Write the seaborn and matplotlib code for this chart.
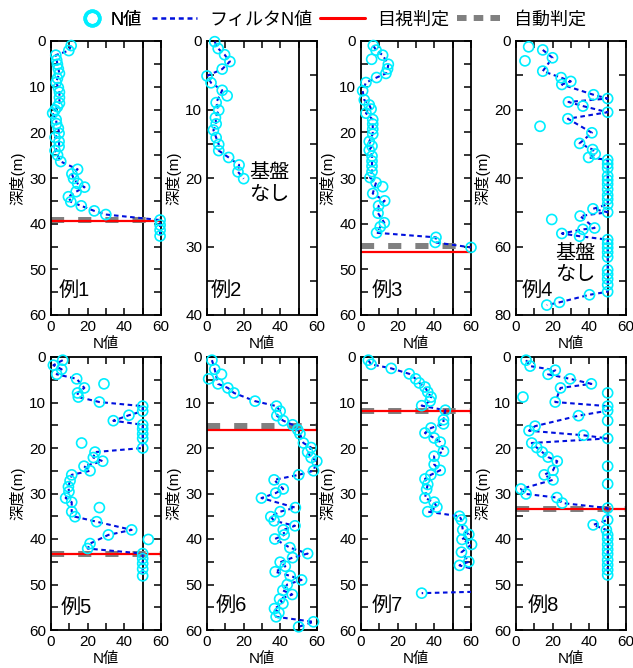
import numpy as np
import pandas as pd
import matplotlib
matplotlib.use("Agg")
import matplotlib.pyplot as plt
import seaborn as sns
from matplotlib.lines import Line2D
from matplotlib.ticker import MultipleLocator

# ---------------- data ----------------
d1 = [1.0, 2.1, 3.1, 4.2, 5.1, 6.1, 7.1, 8.2, 9.1, 10.2, 11.2, 12.4, 13.6, 14.4, 15.1, 15.8,
      17.2, 18.1, 19.1, 20.2, 21.1, 22.0, 23.1, 24.0, 25.0, 26.4, 28.1, 29.1, 30.1, 31.2,
      32.0, 33.0, 34.1, 35.2, 36.1, 37.2, 38.0, 39.2, 40.3, 41.4, 42.7]
n1 = [11.0, 9.7, 2.6, 3.1, 3.5, 4.0, 4.6, 3.5, 2.8, 4.0, 4.6, 4.6, 4.6, 3.5, 2.2, 0.9,
      2.8, 3.0, 4.0, 4.4, 2.2, 4.4, 4.4, 2.2, 3.6, 5.3, 14.5, 11.4, 12.3, 14.5,
      18.3, 13.7, 9.5, 10.8, 16.5, 23.6, 29.9, 59.5, 59.5, 59.5, 59.5]
out1 = []

d2 = [0.1, 1.1, 2.0, 3.0, 4.1, 5.1, 6.1, 7.2, 8.0, 9.0, 10.1, 11.2, 12.1, 13.0, 14.1,
      15.1, 16.0, 17.0, 18.1, 19.1, 20.1]
n2 = [4.2, 6.1, 9.6, 12.5, 8.3, 0.0, 2.2, 8.3, 11.0, 5.0, 6.4, 4.6, 5.0, 3.5, 5.0,
      6.4, 6.4, 11.8, 17.5, 16.9, 20.0]
out2 = [8]

d3 = [1.0, 2.0, 3.1, 4.0, 5.1, 6.1, 7.1, 8.0, 9.1, 10.9, 12.9, 14.0, 14.9, 15.8, 17.2,
      18.2, 19.3, 20.4, 22.0, 23.0, 23.9, 25.2, 26.3, 27.4, 28.6, 29.9, 31.0, 31.9, 33.4,
      35.0, 36.1, 37.7, 39.8, 40.7, 42.0, 43.0, 44.1, 45.2]
n3 = [6.7, 8.2, 11.8, 5.8, 14.9, 14.5, 13.6, 8.5, 2.7, 0.9, 1.8, 4.5, 5.5, 2.7, 6.4,
      6.4, 6.4, 6.4, 4.5, 6.0, 4.5, 6.0, 6.0, 6.0, 6.0, 4.9, 8.2, 11.8, 6.4,
      12.9, 9.6, 9.3, 12.7, 10.5, 8.5, 40.9, 40.5, 60.0]
out3 = [3, 27]

d4 = [1.7, 2.6, 4.9, 5.8, 8.8, 10.7, 11.8, 12.7, 15.7, 16.8, 17.8, 19.0, 20.8, 22.7, 24.9,
      26.8, 29.9, 31.7, 33.0, 34.0, 34.7, 35.9, 37.1, 39.4, 40.6, 41.8, 43.3, 45.0, 46.2,
      47.7, 49.0, 50.0, 51.1, 52.1, 54.6, 55.0, 56.2, 57.0, 58.0, 59.2, 60.4, 61.7, 63.1,
      66.8, 68.1, 69.5, 71.2, 73.2, 74.1, 76.3, 77.1]
n4 = [6.9, 14.6, 19.9, 4.9, 14.6, 24.6, 29.9, 25.0, 42.3, 50.0, 28.6, 36.5, 50.0, 28.3, 13.1,
      41.4, 34.7, 41.8, 43.2, 39.6, 50.0, 50.0, 50.0, 50.0, 50.0, 50.0, 50.0, 50.0, 50.0,
      50.0, 42.0, 50.0, 35.0, 19.5, 42.9, 36.5, 25.0, 34.7, 50.0, 50.0, 50.0, 50.0, 50.0,
      50.0, 50.0, 50.0, 50.0, 50.0, 40.1, 23.7, 16.8]
out4 = [0, 3, 14, 33]

d5 = [0.7, 1.8, 2.7, 3.8, 4.8, 5.9, 6.8, 7.9, 8.8, 9.9, 10.8, 11.9, 12.8, 14.0, 14.9,
      15.8, 16.9, 17.9, 18.9, 20.0, 20.9, 22.1, 22.9, 24.0, 25.0, 25.9, 27.2, 28.5, 29.6,
      31.0, 31.9, 33.1, 34.0, 35.1, 36.2, 38.0, 39.1, 40.1, 41.0, 42.1, 43.2, 44.3, 45.4,
      46.6, 48.1]
n5 = [6.4, 1.3, 5.8, 3.1, 14.0, 28.9, 18.2, 14.5, 14.9, 26.4, 50.0, 50.0, 42.5, 34.0, 50.0,
      50.0, 50.0, 50.0, 16.7, 50.0, 24.0, 23.1, 28.2, 18.0, 21.3, 11.3, 10.4, 9.5, 9.8,
      8.0, 11.3, 26.4, 11.3, 13.1, 24.9, 44.0, 31.3, 53.1, 21.3, 20.0, 50.0, 50.0, 50.0,
      50.0, 50.0]
out5 = [5, 18, 31, 37]

d6 = [0.7, 2.7, 3.8, 4.8, 5.9, 6.8, 7.9, 9.7, 10.8, 11.9, 12.9, 14.0, 14.9, 16.0, 16.9,
      18.9, 19.9, 20.9, 22.1, 22.9, 25.0, 25.9, 27.0, 29.0, 29.9, 31.0, 33.1, 34.0, 35.1,
      36.0, 37.1, 38.0, 39.1, 40.0, 41.9, 43.2, 44.1, 45.1, 46.0, 47.2, 48.1, 49.0, 50.0,
      51.3, 52.2, 53.2, 54.2, 55.3, 56.2, 57.1, 58.2, 59.3]
n6 = [2.7, 4.2, 7.9, 0.9, 6.0, 11.4, 14.7, 26.2, 37.9, 39.9, 38.1, 41.6, 46.7, 49.5, 50.7,
      52.6, 56.8, 54.9, 56.8, 59.9, 58.1, 50.0, 36.6, 41.6, 37.5, 29.7, 48.2, 39.9, 34.8,
      36.6, 48.0, 41.6, 42.1, 37.0, 45.2, 54.9, 46.7, 39.9, 42.7, 37.2, 45.4, 51.6, 43.8,
      41.4, 46.5, 39.6, 41.4, 36.8, 39.2, 37.7, 58.1, 50.0]
out6 = [2, 3]

d7 = [0.7, 1.6, 2.5, 3.7, 4.8, 5.7, 6.6, 7.7, 8.8, 9.7, 10.7, 11.7, 13.8, 14.7, 15.6,
      16.7, 17.8, 18.7, 20.7, 21.8, 23.6, 24.9, 25.9, 26.8, 28.0, 29.1, 31.0, 31.9, 33.0,
      34.0, 35.0, 35.8, 38.0, 39.0, 40.1, 41.2, 42.9, 45.0, 45.8, 47.0, 51.2, 51.9]
n7 = [4.0, 5.5, 16.5, 26.3, 29.8, 31.8, 34.9, 36.4, 38.2, 37.7, 33.1, 46.0, 45.0, 45.0, 38.2,
      34.9, 39.9, 43.2, 45.0, 39.9, 39.9, 43.2, 38.1, 34.9, 36.4, 35.8, 34.9, 39.9, 41.4,
      36.4, 53.7, 54.8, 55.5, 58.8, 55.1, 60.3, 54.8, 58.8, 53.7, 65.0, 100.0, 33.1]
out7 = []

d8 = [0.7, 2.0, 2.9, 3.8, 4.8, 5.9, 6.8, 7.9, 8.8, 9.9, 10.8, 11.8, 12.9, 14.0, 15.2,
      16.2, 17.2, 17.9, 18.9, 19.9, 20.9, 22.0, 22.9, 24.0, 24.9, 25.9, 27.0, 27.9, 29.0,
      30.1, 30.9, 32.1, 33.2, 35.8, 36.9, 38.0, 39.1, 40.0, 41.2, 42.3, 43.3, 44.6, 45.7,
      46.8, 47.9]
n8 = [5.5, 7.7, 21.4, 17.5, 29.5, 41.1, 24.3, 50.0, 3.8, 21.4, 50.0, 50.0, 34.1, 50.0, 10.4,
      7.1, 36.8, 50.0, 8.6, 11.3, 14.3, 17.5, 22.5, 50.0, 20.2, 15.4, 20.2, 50.0, 2.7,
      5.5, 22.3, 25.2, 50.0, 50.0, 42.1, 49.3, 50.0, 50.0, 50.0, 50.0, 50.0, 50.0, 50.0,
      50.0, 50.0]
out8 = [7, 8, 13, 23, 27]

titles = ["例1", "例2", "例3", "例4", "例5", "例6", "例7", "例8"]
ymaxs = [60, 40, 60, 80, 60, 60, 60, 60]
visual = [39.4, None, 46.2, None, 43.4, 16.0, 11.9, 33.4]   # 目視判定
auto = [39.2, None, 44.9, None, 43.2, 15.2, 11.8, 33.3]     # 自動判定
nobase = [False, True, False, True, False, False, False, False]

# ---------------- style ----------------
sns.set_style("ticks")
plt.rcParams['font.family'] = ['Liberation Sans', 'Noto Sans CJK JP', 'DejaVu Sans']
plt.rcParams['axes.linewidth'] = 1.3
plt.rcParams['text.color'] = 'black'
plt.rcParams['axes.labelcolor'] = 'black'
plt.rcParams['xtick.color'] = 'black'
plt.rcParams['ytick.color'] = 'black'
plt.rcParams['axes.edgecolor'] = 'black'

CYAN = '#00eeff'
BLUE = '#0010dd'
RED = '#ff0000'
GRAY = '#808080'
FILT_LS = (0, (2.2, 1.7))
AUTO_LS = (0, (2.2, 2.35))

fig = plt.figure(figsize=(6.33, 6.68), dpi=100)
W, H = 633.0, 668.0
lefts = [51, 207, 361, 516]
rows = [(41, 315), (357, 630)]

panels = [(d1, n1, out1), (d2, n2, out2), (d3, n3, out3), (d4, n4, out4),
          (d5, n5, out5), (d6, n6, out6), (d7, n7, out7), (d8, n8, out8)]
lab_pos = [(0.065, 0.09), (0.03, 0.09), (0.10, 0.09), (0.055, 0.09),
           (0.09, 0.084), (0.075, 0.09), (0.10, 0.09), (0.11, 0.09)]
base_pos = {1: (0.38, 0.48), 3: (0.355, 0.185)}

for i, (d, n, out) in enumerate(panels):
    r, c = divmod(i, 4)
    top, bot = rows[r]
    ax = fig.add_axes([lefts[c] / W, (H - bot) / H, 110 / W, (bot - top) / H])
    df = pd.DataFrame({'N': n, 'depth': d})
    df_f = df.drop(index=out)
    df_s = df[df['N'] <= 61]

    ax.axvline(50, color='black', lw=1.3, zorder=1)
    if auto[i] is not None:
        ax.axhline(auto[i], color=GRAY, lw=4.3, ls=AUTO_LS, zorder=2)
    if visual[i] is not None:
        ax.axhline(visual[i], color=RED, lw=1.6, zorder=2.5)

    sns.lineplot(data=df_f, x='N', y='depth', sort=False, estimator=None, ax=ax,
                 color=BLUE, lw=1.5, linestyle=FILT_LS, zorder=3)
    ax.scatter(df_s['N'], df_s['depth'], s=52, facecolors='none',
               edgecolors=CYAN, linewidths=1.2, zorder=4, clip_on=False)

    ax.set_xlim(0, 60)
    ax.set_ylim(ymaxs[i], 0)
    ax.xaxis.set_major_locator(MultipleLocator(20))
    ax.xaxis.set_minor_locator(MultipleLocator(10))
    if ymaxs[i] == 80:
        ax.yaxis.set_major_locator(MultipleLocator(20))
        ax.yaxis.set_minor_locator(MultipleLocator(10))
    else:
        ax.yaxis.set_major_locator(MultipleLocator(10))
        ax.yaxis.set_minor_locator(MultipleLocator(5))
    ax.tick_params(which='both', direction='in', top=True, right=True,
                   length=5, width=1.1, labelsize=11, colors='black')
    ax.set_xlabel('N値', fontsize=11, labelpad=2, color='black')
    ax.set_ylabel('深度(m)', fontsize=11, labelpad=3, color='black')
    for s in ax.spines.values():
        s.set_color('black')
        s.set_linewidth(1.3)

    lx, ly = lab_pos[i]
    ax.text(lx, ly, titles[i], transform=ax.transAxes, fontsize=14.5,
            ha='left', va='center', zorder=5, color='black')
    if nobase[i]:
        bx, by = base_pos[c]
        ax.text(bx, by, '基盤\nなし', transform=ax.transAxes, fontsize=14.5,
                ha='left', va='center', linespacing=1.15, zorder=5, color='black')
    if ax.get_legend() is not None:
        ax.get_legend().remove()

h_n = [Line2D([], [], ls='none', marker='o', markersize=10.5, markerfacecolor='none',
              markeredgecolor=CYAN, markeredgewidth=2.6)]
h_rest = [
    Line2D([], [], color=BLUE, lw=1.8, ls=(0, (2.0, 1.5))),
    Line2D([], [], color=RED, lw=2.2),
    Line2D([], [], color=GRAY, lw=4.3, ls=(0, (1.6, 1.2))),
]
leg_a = fig.legend(h_n, ['N値'], loc='center left', bbox_to_anchor=(83 / W, 0.97),
                   frameon=False, fontsize=13, handlelength=1.0, handletextpad=0.55,
                   borderaxespad=0, borderpad=0)
fig.add_artist(leg_a)
fig.legend(h_rest, ['フィルタN値', '目視判定', '自動判定'], loc='center left',
           bbox_to_anchor=(152 / W, 0.97), ncol=3, frameon=False, fontsize=13,
           handlelength=2.5, handletextpad=0.65, columnspacing=0.45,
           borderaxespad=0, borderpad=0)

fig.savefig('out.png', dpi=100)
